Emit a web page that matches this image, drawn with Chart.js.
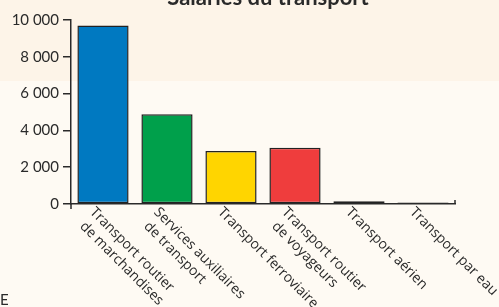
<!DOCTYPE html>
<html>
<head>
<meta charset="utf-8">
<script src="https://cdn.jsdelivr.net/npm/chart.js@4.4.0/dist/chart.umd.min.js"></script>
<style>
    html, body { margin: 0; padding: 0; background: #fefaf3; }
    #wrap { width: 499px; height: 307px; position: relative; }
</style>
</head>
<body>
<div id="wrap"><canvas id="chart" width="499" height="307"></canvas></div>
<script>
// --- DATA ---
const categories = [
    ['Transport routier', 'de marchandises'],
    ['Services auxiliaires', 'de transport'],
    ['Transport ferroviaire'],
    ['Transport routier', 'de voyageurs'],
    ['Transport aérien'],
    ['Transport par eau']
];
const salaries = [9700, 4880, 2880, 3060, 150, 80];
const barColors = ['#0079c1', '#00a04b', '#ffd500', '#ef3d3d', '#3a1638', '#222222'];
const yTickValues = [0, 2000, 4000, 6000, 8000, 10000];
const yTickLabels = ['0', '2 000', '4 000', '6 000', '8 000', '10 000'];
const chartTitle = 'Salariés du transport';
const footText = 'E';

const FONT = 'Lato, "Noto Sans", sans-serif';
const LABEL_FONT = '"Open Sans", Lato, sans-serif';
const INK = '#2a2a2a';

// background bands, title, rotated category labels, axis end marks
const decorPlugin = {
    id: 'decor',
    beforeDraw(chart) {
        const { ctx, width, height } = chart;
        ctx.save();
        ctx.fillStyle = '#fefaf3';
        ctx.fillRect(0, 0, width, height);
        ctx.fillStyle = '#fdf4e8';
        ctx.fillRect(0, 0, width, 81);
        ctx.restore();
    },
    afterDraw(chart) {
        const { ctx } = chart;
        const xs = chart.scales.x;
        const ys = chart.scales.y;
        const base = ys.getPixelForValue(0);

        ctx.save();
        // title (cut off at top like the source)
        ctx.fillStyle = INK;
        ctx.font = 'bold 22px ' + FONT;
        ctx.textAlign = 'center';
        ctx.textBaseline = 'alphabetic';
        ctx.fillText(chartTitle, 268, 5);

        // small end marks on the x axis
        ctx.strokeStyle = INK;
        ctx.lineWidth = 1.5;
        ctx.beginPath();
        ctx.moveTo(xs.left, base);
        ctx.lineTo(xs.left, base + 5);
        ctx.moveTo(xs.right, base);
        ctx.lineTo(xs.right, base - 4);
        ctx.stroke();

        // rotated category labels
        ctx.font = '14px ' + LABEL_FONT;
        ctx.textAlign = 'left';
        ctx.textBaseline = 'top';
        categories.forEach((lines, i) => {
            const x = xs.getPixelForValue(i);
            ctx.save();
            ctx.translate(x - 6, base + 1);
            ctx.rotate(Math.PI / 4);
            lines.forEach((line, j) => {
                ctx.fillText(line, j * 3, j * 17);
            });
            ctx.restore();
        });

        // stray source letter at bottom-left
        ctx.font = '15px ' + FONT;
        ctx.textBaseline = 'alphabetic';
        ctx.fillText(footText, 0, 305);
        ctx.restore();
    }
};

new Chart(document.getElementById('chart'), {
    type: 'bar',
    data: {
        labels: categories.map(c => c.join(' ')),
        datasets: [{
            data: salaries,
            backgroundColor: barColors,
            borderColor: '#222',
            borderWidth: 1.5,
            borderSkipped: false,
            barPercentage: 0.8,
            categoryPercentage: 1.0
        }]
    },
    options: {
        responsive: false,
        animation: false,
        layout: { padding: { top: 20, right: 44, left: 0, bottom: 0 } },
        plugins: {
            legend: { display: false },
            title: { display: false },
            tooltip: { enabled: false }
        },
        scales: {
            x: {
                grid: { display: false },
                border: { display: true, color: INK, width: 1.5 },
                ticks: { display: false },
                afterFit(scale) { scale.height = 103; }
            },
            y: {
                min: 0,
                max: 10000,
                afterBuildTicks(scale) {
                    scale.ticks = yTickValues.map(v => ({ value: v }));
                },
                grid: {
                    drawOnChartArea: false,
                    drawTicks: true,
                    tickLength: 8,
                    color: INK,
                    lineWidth: 1.5
                },
                border: { display: true, color: INK, width: 1.5 },
                ticks: {
                    color: INK,
                    padding: 4,
                    font: { family: FONT, size: 15 },
                    callback: (v) => yTickLabels[yTickValues.indexOf(v)]
                },
                afterFit(scale) { scale.width = 71; }
            }
        }
    },
    plugins: [decorPlugin]
});
</script>
</body>
</html>
